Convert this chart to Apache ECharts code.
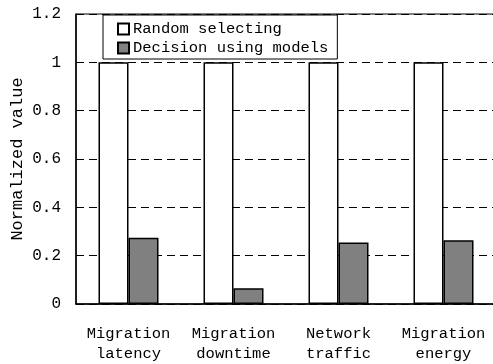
<!DOCTYPE html>
<html>
<head>
<meta charset="utf-8">
<script src="https://cdn.jsdelivr.net/npm/echarts@6/dist/echarts.min.js"></script>
<style>
  html, body { margin: 0; padding: 0; background: #fff; }
  #chart { width: 493px; height: 364px; }
</style>
</head>
<body>
<div id="chart"></div>
<script>
const categories = ['Migration\nlatency', 'Migration\ndowntime', 'Network\ntraffic', 'Migration\nenergy'];
const randomSelecting = [1, 1, 1, 1];
const decisionUsingModels = [0.274, 0.065, 0.255, 0.264];

const FONT = '"Liberation Mono", "DejaVu Sans Mono", monospace';

const chart = echarts.init(document.getElementById('chart'));

chart.setOption({
    animation: false,
    backgroundColor: '#fff',
    textStyle: { fontFamily: FONT, color: '#000' },
    grid: {
        left: 76,
        top: 14,
        width: 420,
        height: 290,
        outerBoundsMode: 'none',
        show: true,
        borderColor: '#000',
        borderWidth: 1
    },
    legend: {
        orient: 'vertical',
        left: 103,
        top: 15,
        padding: [6, 9, 3, 14],
        itemGap: 3,
        itemWidth: 11,
        itemHeight: 11,
        borderColor: '#000',
        borderWidth: 1,
        backgroundColor: '#fff',
        textStyle: { fontFamily: FONT, fontSize: 15.5, color: '#000', padding: [0, 0, 0, -1] },
        data: [
            { name: 'Random selecting', icon: 'rect' },
            { name: 'Decision using models', icon: 'rect' }
        ]
    },
    xAxis: {
        type: 'category',
        data: categories,
        axisLine: { lineStyle: { color: '#000', width: 1.5 } },
        axisTick: { inside: true, length: 7, lineStyle: { color: '#000', width: 1.5 } },
        axisLabel: {
            interval: 0,
            fontFamily: FONT,
            fontSize: 15.5,
            color: '#000',
            margin: 20,
            lineHeight: 20
        }
    },
    yAxis: {
        type: 'value',
        min: 0,
        max: 1.2,
        interval: 0.2,
        name: 'Normalized value',
        nameLocation: 'middle',
        nameGap: 50,
        nameMoveOverlap: false,
        nameTextStyle: { fontFamily: FONT, fontSize: 17, color: '#000' },
        axisLine: { show: true, lineStyle: { color: '#000', width: 1.5 } },
        axisTick: { show: false },
        axisLabel: {
            fontFamily: FONT,
            fontSize: 16,
            color: '#000',
            margin: 15
        },
        splitLine: {
            show: true,
            lineStyle: { color: '#000', type: [8, 5], width: 1 }
        }
    },
    series: [
        {
            name: 'Random selecting',
            type: 'bar',
            data: randomSelecting,
            barWidth: 30,
            barGap: '0%',
            itemStyle: { color: '#fff', borderColor: '#000', borderWidth: 1.5 }
        },
        {
            name: 'Decision using models',
            type: 'bar',
            data: decisionUsingModels,
            barWidth: 30,
            itemStyle: { color: '#808080', borderColor: '#000', borderWidth: 1.5 }
        }
    ]
});
</script>
</body>
</html>
